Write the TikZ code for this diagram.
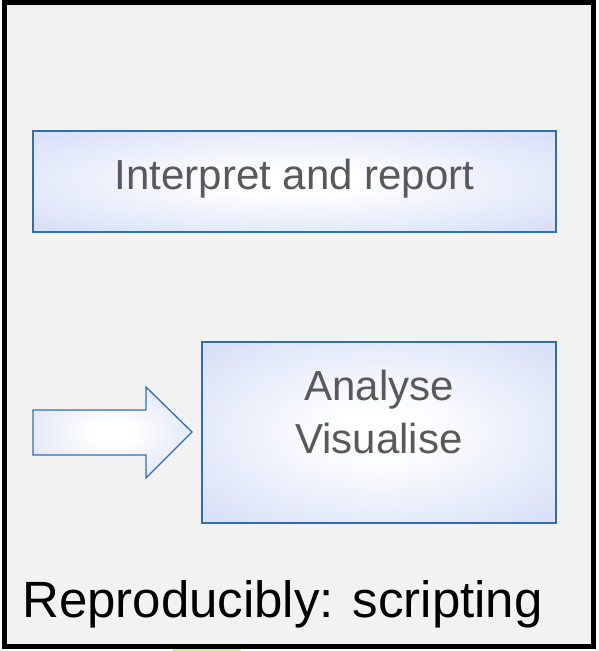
\documentclass[tikz,border=0pt]{standalone}
\usepackage{fontspec}
\setmainfont{Liberation Sans}
\definecolor{boxblue}{RGB}{46,110,182}
\definecolor{boxouter}{RGB}{217,225,247}
\definecolor{txtgray}{RGB}{89,89,89}
\definecolor{bggray}{RGB}{242,242,242}
\definecolor{sliver}{RGB}{214,240,160}
\pgfdeclareradialshading{softrad}{\pgfpoint{0bp}{0bp}}{color(0bp)=(white); color(6bp)=(white); color(33bp)=(boxouter); color(50bp)=(boxouter)}
\tikzset{
  gradbox/.style={draw=boxblue, line width=1.3pt, shading=softrad},
  boxtext/.style={text=txtgray, font=\fontsize{42}{53}\selectfont, align=center},
}
\begin{document}
\begin{tikzpicture}[x=1pt,y=-1pt]
\useasboundingbox (0,0) rectangle (598,651);
\fill[white] (0,0) rectangle (598,651);
\fill[sliver] (173,646) rectangle (241,651);
\draw[black, line width=5pt, fill=bggray] (4.5,2.5) rectangle (593,646);
% box 1
\path[gradbox] (33,131) rectangle (556,232);
\node[boxtext, anchor=base] (interp) at (294.5,189) {Interpret and report};
% box 2
\path[gradbox] (202,342) rectangle (556,523);
\node[boxtext] (analyse) at (379,412) {Analyse\\Visualise};
% block arrow
\path[gradbox] (33,410) -- (146,410) -- (146,387) -- (192,432) -- (146,478) -- (146,455) -- (33,455) -- cycle;
% caption
\node[anchor=base west, font=\fontsize{51}{60}\selectfont, text=black, inner sep=0pt] (cap) at (22,617) {Reproducibly: scripting};
\end{tikzpicture}
\end{document}
